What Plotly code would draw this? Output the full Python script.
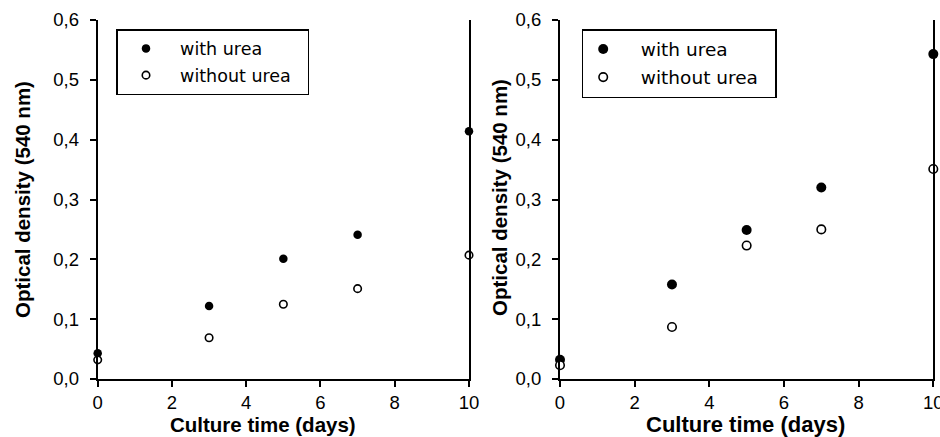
import plotly.graph_objects as go

days = [0, 3, 5, 7, 10]
left_with = [0.043, 0.122, 0.201, 0.241, 0.414]
left_without = [0.032, 0.069, 0.125, 0.151, 0.207]
right_with = [0.032, 0.158, 0.249, 0.320, 0.543]
right_without = [0.023, 0.087, 0.223, 0.250, 0.351]
x_ticks = [0, 2, 4, 6, 8, 10]
y_ticks = [0, 0.1, 0.2, 0.3, 0.4, 0.5, 0.6]
y_title = "Optical density (540 nm)"
x_title = "Culture time (days)"
name_with = "with urea"
name_without = "without urea"

FONT = "Liberation Sans, Arial, sans-serif"
LFONT = "DejaVu Sans, sans-serif"
W, H = 940, 437
T, B = 20, 58
PH = H - T - B  # plot-area height in px

def py(p):
    """pixel row -> paper y"""
    return 1 - (p - T) / PH

fig = go.Figure()

def add_pair(xa, ya, yw, ywo, legend, fsize, osize, grp, pre, post):
    fig.add_trace(go.Scatter(
        x=days, y=yw, mode="markers", name=pre + name_with + post,
        xaxis=xa, yaxis=ya,
        legend=legend, legendgroup=grp + "a", cliponaxis=False,
        marker=dict(symbol="circle", size=fsize, color="black",
                    line=dict(color="black", width=0))))
    fig.add_trace(go.Scatter(
        x=days, y=ywo, mode="markers", name=pre + name_without + post,
        xaxis=xa, yaxis=ya,
        legend=legend, legendgroup=grp + "b", cliponaxis=False,
        marker=dict(symbol="circle", size=osize, color="white",
                    line=dict(color="black", width=1.6))))

NB = "\u00a0"
add_pair("x", "y", left_with, left_without, "legend", 8.5, 7.5, "L", NB, NB * 2)
add_pair("x2", "y2", right_with, right_without, "legend2", 10, 8.5, "R", NB * 3, NB * 2)

axis_common = dict(showgrid=False, zeroline=False, showline=True,
                   linecolor="black", linewidth=2, ticks="outside",
                   tickcolor="black", tickwidth=2, automargin=False,
                   ticklabeloverflow="allow",
                   tickfont=dict(family=FONT, size=18.5, color="black"))

xd1 = [97.7 / W, 469 / W]
xd2 = [560 / W, 933.3 / W]

legend_common = dict(yanchor="top", xanchor="left", y=py(29),
                     bordercolor="black", borderwidth=1.5, bgcolor="white",
                     traceorder="grouped", tracegroupgap=1)

yaxis_common = dict(domain=[0, 1], range=[0, 0.6], tickvals=y_ticks,
                    tickformat=".1f", ticklen=6, mirror=True,
                    ticklabelstandoff=7, **axis_common)
xaxis_common = dict(range=[0, 10], tickvals=x_ticks, ticklen=6, **axis_common)

fig.update_layout(
    width=W, height=H, margin=dict(l=0, r=0, t=T, b=B, autoexpand=False),
    paper_bgcolor="white", plot_bgcolor="white", separators=",.",
    xaxis=dict(domain=xd1, anchor="y", **xaxis_common),
    yaxis=dict(anchor="x", **yaxis_common),
    xaxis2=dict(domain=xd2, anchor="y2", **xaxis_common),
    yaxis2=dict(anchor="x2", **yaxis_common),
    legend=dict(x=116 / W, itemwidth=47,
                font=dict(family=LFONT, size=17.5, color="black"),
                **legend_common),
    legend2=dict(x=581.7 / W, itemwidth=30,
                 font=dict(family=LFONT, size=18.5, color="black"),
                 **legend_common),
    showlegend=True,
)

for xc, yc in [(22, 200), (499, 197)]:
    fig.add_annotation(text="<b>" + y_title + "</b>", xref="paper", yref="paper",
                       x=xc / W, y=py(yc), textangle=-90, showarrow=False,
                       font=dict(family=FONT, size=20.5, color="black"),
                       xanchor="center", yanchor="middle")
for xc, fs in [(263, 20.5), (745, 22)]:
    fig.add_annotation(text="<b>" + x_title + "</b>", xref="paper", yref="paper",
                       x=xc / W, y=py(424), showarrow=False,
                       font=dict(family=FONT, size=fs, color="black"),
                       xanchor="center", yanchor="middle")

fig.write_html("out.html")
